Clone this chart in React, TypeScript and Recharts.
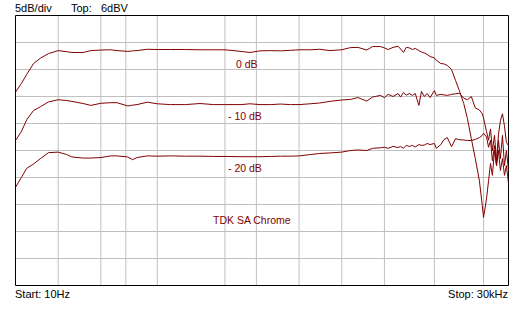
import React from "react";
import {
  LineChart,
  Line,
  XAxis,
  YAxis,
  CartesianGrid,
  ReferenceArea,
} from "recharts";

// frequency points (Hz)
const freqs = [
  10, 11, 12, 13.4, 15, 17.1, 20, 23, 25, 30,
  34, 40, 47, 52, 62, 67, 72, 85, 100, 124,
  158, 200, 250, 300, 390, 450, 530, 630, 740, 870,
  1000, 1200, 1400, 1650, 2000, 2300, 2600, 3000, 3300, 3750,
  4000, 4250, 4600, 5000, 5200, 5450, 5700, 6000, 6300, 6600,
  7000, 7300, 7650, 8000, 8400, 9000, 9300, 10000, 10500, 11100,
  11900, 12700, 13500, 14500, 15400, 16400, 17500, 18700, 19600, 20000,
  21000, 21700, 22400, 23100, 23900, 24700, 25500, 26300, 27200, 28100,
  29000, 30000,
];

// response in dBV, recorded at 0 dB
const level0 = [
  -8.2, -6.6, -4.9, -2.9, -1.9, -1.05, -0.5, -0.7, -0.85, -0.85,
  -0.5, -0.4, -0.35, -0.5, -0.65, -0.55, -0.5, -0.25, -0.3, -0.3,
  -0.3, -0.35, -0.35, -0.35, -0.65, -0.85, -0.55, -0.5, -0.55, -0.45,
  -0.35, -0.35, -0.25, -0.5, -0.35, 0.05, 0.1, -0.4, 0.25, 0.25,
  0, -0.3, 0.1, 0.3, -0.2, -0.85, 0.1, 0, -0.3, -0.1,
  -0.5, -0.75, -0.95, -1.2, -1.6, -1.85, -2.3, -2.9, -2.95, -3.25,
  -4.0, -6.05, -7.9, -10.3, -13.1, -16.8, -20.5, -24.6, -29.2, -31.4,
  -27.9, -24.6, -21.4, -23.6, -19, -21.8, -17.1, -20.5, -16.2, -21.8,
  -19, -22.7,
];

// recorded at -10 dB
const level10 = [
  -17.15, -15.5, -13.3, -11.6, -10.9, -10.0, -9.6, -9.75, -9.9, -10.3,
  -10.65, -10.25, -10.15, -10.15, -10.75, -10.6, -10.5, -10.05, -10.35, -10.5,
  -10.5, -10.3, -10.5, -10.5, -10.5, -10.35, -10.5, -10.5, -10.4, -10.5,
  -10.5, -10.35, -10.2, -9.9, -9.65, -9.55, -9.2, -9.85, -9.1, -8.8,
  -9.2, -8.6, -9.0, -8.45, -9.1, -8.25, -8.75, -8.45, -8.8, -8.45,
  -10.65, -8.05, -9.0, -8.45, -9.2, -7.9, -8.8, -8.6, -8.7, -8.8,
  -8.6, -8.5, -8.4, -9.3, -9.6, -9.0, -11.1, -11.5, -12.2, -13.0,
  -15.5, -17.1, -15, -19, -16.2, -20.9, -16, -13.5, -12.2, -14.5,
  -17.5, -18.1,
];

// recorded at -20 dB
const level20 = [
  -25.8, -24, -22.3, -21.5, -20.5, -19.4, -19.3, -19.75, -20.2, -20.4,
  -20.4, -20.3, -20.0, -20.0, -20.2, -20.7, -20.3, -20.0, -20.05, -20.0,
  -20.05, -20.05, -20.1, -20.1, -20.15, -20.15, -20.15, -20.1, -20.05, -20.05,
  -20.0, -19.75, -19.55, -19.45, -19.3, -19.0, -18.9, -19.0, -18.6, -18.5,
  -18.4, -18.6, -18.25, -18.45, -18.25, -18.6, -18.05, -18.25, -18.05, -18.35,
  -17.9, -18.05, -18.0, -17.7, -17.9, -17.7, -18.6, -17.9, -17.0, -16.6,
  -18.3, -16.8, -17.0, -17.05, -17.15, -17.15, -16.95, -16.6, -16.2, -15.8,
  -16.5, -18.4, -17.1, -20.9, -18.1, -21.8, -19, -22.7, -20.5, -23.6,
  -21.8, -25.1,
];

const freqGrid = [
  20, 30, 40, 50, 60, 70, 80, 90,
  100, 200, 300, 400, 500, 600, 700, 800, 900,
  1000, 2000, 3000, 4000, 5000, 6000, 7000, 8000, 9000,
  10000, 20000,
];
const dbGrid = [-39, -34, -29, -24, -19, -14, -9, -4, 1];

const TRACE = "#800000";
const FONT = "'Liberation Sans', Arial, sans-serif";

const data = freqs.map((f, i) => ({
  f,
  a: level0[i],
  b: level10[i],
  c: level20[i],
}));

export default function App() {
  return (
    <div
      style={{
        position: "absolute",
        left: 0,
        top: 0,
        width: 530,
        height: 310,
        background: "#fff",
      }}
    >
      <LineChart
        width={530}
        height={310}
        data={data}
        margin={{ top: 15.5, right: 21.5, bottom: 24.5, left: 15.5 }}
      >
        <CartesianGrid
          stroke="#c0c0c0"
          verticalValues={freqGrid}
          horizontalValues={dbGrid}
        />
        <XAxis
          dataKey="f"
          type="number"
          scale="log"
          domain={[10, 30000]}
          ticks={freqGrid}
          allowDataOverflow
          hide
        />
        <YAxis
          type="number"
          domain={[-44, 6]}
          ticks={dbGrid}
          allowDataOverflow
          hide
        />
        <ReferenceArea
          x1={10}
          x2={30000}
          y1={-44}
          y2={6}
          stroke="#000"
          strokeWidth={1}
          fill="none"
          fillOpacity={0}
        />
        <Line dataKey="a" stroke={TRACE} strokeWidth={1} dot={false} type="linear" isAnimationActive={false} />
        <Line dataKey="b" stroke={TRACE} strokeWidth={1} dot={false} type="linear" isAnimationActive={false} />
        <Line dataKey="c" stroke={TRACE} strokeWidth={1} dot={false} type="linear" isAnimationActive={false} />
      </LineChart>
      <svg
        width={530}
        height={310}
        style={{ position: "absolute", left: 0, top: 0, pointerEvents: "none" }}
        fontFamily={FONT}
        fontSize={11}
      >
        <text x={15} y={12} fill="#000">5dB/div</text>
        <text x={71} y={12} fill="#000">Top:</text>
        <text x={101} y={12} fill="#000">6dBV</text>
        <text x={15} y={298} fill="#000">Start: 10Hz</text>
        <text x={508} y={298} fill="#000" textAnchor="end">Stop: 30kHz</text>
        <g fill={TRACE} fontSize={10.5}>
          <text x={236} y={68}>0 dB</text>
          <text x={228} y={120}>- 10 dB</text>
          <text x={228} y={172}>- 20 dB</text>
          <text x={213} y={224}>TDK SA Chrome</text>
        </g>
      </svg>
    </div>
  );
}
